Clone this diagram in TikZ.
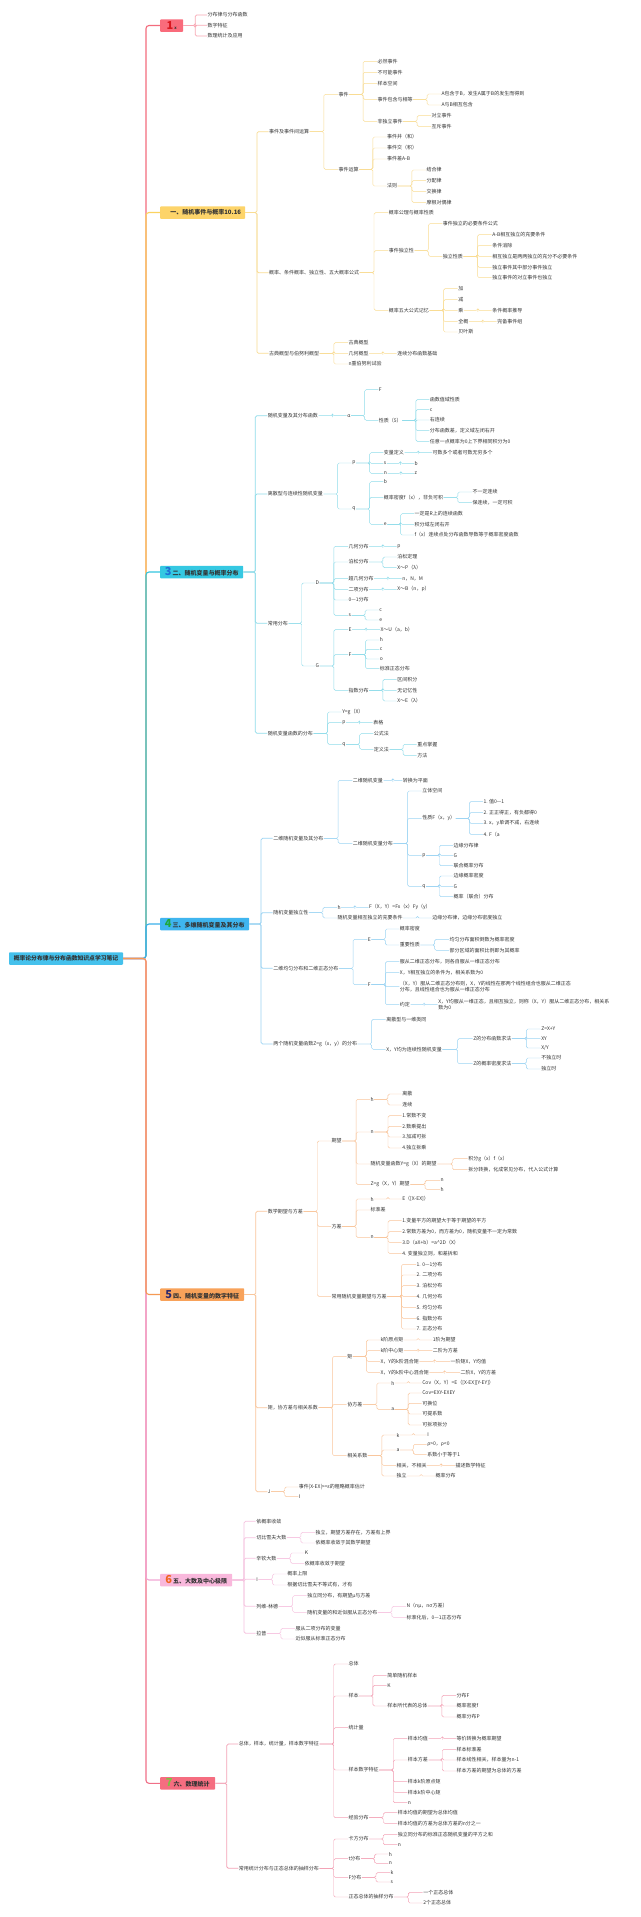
\documentclass[tikz,border=0pt]{standalone}
\usepackage{fontspec}
\setmainfont{Noto Sans CJK SC}
\usetikzlibrary{calc}
\definecolor{txt}{HTML}{333333}
\definecolor{rootf}{HTML}{45C1EC}
\definecolor{cb1}{HTML}{F96B7B}
\definecolor{cbA}{HTML}{FDD46A}
\definecolor{cbB}{HTML}{35C8E2}
\definecolor{cbC}{HTML}{3FB5EF}
\definecolor{cbD}{HTML}{F8A25A}
\definecolor{cbE}{HTML}{F9B8DC}
\definecolor{cbF}{HTML}{F56D80}
\definecolor{s1}{HTML}{F36C7D}
\definecolor{sA}{HTML}{FBD360}
\definecolor{sB}{HTML}{34C5DF}
\definecolor{sC}{HTML}{3BB0EA}
\definecolor{sD}{HTML}{F59A55}
\definecolor{sE}{HTML}{F2A6D4}
\definecolor{sF}{HTML}{F07088}
\definecolor{l1}{HTML}{F8A9B5}
\definecolor{lA}{HTML}{F9DC93}
\definecolor{lB}{HTML}{90DCEA}
\definecolor{lC}{HTML}{9CD4F3}
\definecolor{lD}{HTML}{F9C69C}
\definecolor{lE}{HTML}{F6C3E0}
\definecolor{lF}{HTML}{F3A2B6}
\definecolor{dg1}{HTML}{D8161E}
\definecolor{dg3}{HTML}{1F6FD6}
\definecolor{dg4}{HTML}{1FA83A}
\definecolor{dg5}{HTML}{2D2A6E}
\definecolor{dg6}{HTML}{F0641E}
\definecolor{dg7}{HTML}{7CC242}
\tikzset{
  t/.style={anchor=west,inner sep=0.4pt,font=\fontsize{5}{6.6}\selectfont,text=txt,align=left},
  elb/.style={to path={-| ($(\tikztostart)!.5!(\tikztotarget)$) |- (\tikztotarget)}},
  lc/.style={draw=gray},
  lw1/.style={line width=0.75pt},
  bx/.style={anchor=west,minimum height=12.5pt,inner xsep=2pt,inner ysep=0pt,font=\bfseries\fontsize{6}{7}\selectfont,text=txt,rounded corners=0.8pt},
  tr/.style={line width=1.1pt,rounded corners=3pt}
}
\newcommand\N[4]{\node[t] (#1) at (#2,#3) {#4};}
\newcommand\lk[3][]{\foreach \x in {#3}{\draw[lc,elb,line width=0.45pt,rounded corners=1.5pt,#1] (#2.east) to (\x.west);}}
\newcommand\dig[2]{{\fontsize{11}{11}\selectfont\color{#1}#2}\,}
\begin{document}
\begin{tikzpicture}[x=1pt,y=-1pt]
\useasboundingbox (0,0) rectangle (640,1917);
\fill[white] (0,0) rectangle (640,1917);
% root and main boxes
\node[bx,fill=rootf,minimum width=114pt,anchor=center,font=\bfseries\fontsize{5.8}{7}\selectfont] (root) at (66,958.5) {概率论分布律与分布函数知识点学习笔记};
\node[bx,fill=cb1,minimum width=23pt] (b1) at (160,25.5) {\dig{dg1}{1}{\fontsize{4}{4}\selectfont x}};
\node[bx,fill=cbA,minimum width=85pt] (bA) at (160,212.5) {\hspace{6pt}一、随机事件与概率10.16};
\node[bx,fill=cbB,minimum width=83pt] (bB) at (160,572) {\dig{dg3}{3}二、随机变量与概率分布};
\node[bx,fill=cbC,minimum width=89pt] (bC) at (160,924) {\dig{dg4}{4}三、多维随机变量及其分布};
\node[bx,fill=cbD,minimum width=84pt] (bD) at (160,1294.5) {\dig{dg5}{5}四、随机变量的数字特征};
\node[bx,fill=cbE,minimum width=72pt] (bE) at (160,1580) {\dig{dg6}{6}五、大数及中心极限};
\node[bx,fill=cbF,minimum width=55pt] (bF) at (160,1783.3) {\dig{dg7}{7}六、数理统计};
% root connectors (outer first)
\draw[tr,s1] (root.east) -| ([xshift=-14pt]b1.west) -- (b1.west);
\draw[tr,sA] (root.east) -| ([xshift=-14pt]bA.west) -- (bA.west);
\draw[tr,sB] (root.east) -| ([xshift=-14pt]bB.west) -- (bB.west);
\draw[tr,sC] (root.east) -| ([xshift=-14pt]bC.west) -- (bC.west);
\draw[tr,sF] (root.east) -| ([xshift=-14pt]bF.west) -- (bF.west);
\draw[tr,sE] (root.east) -| ([xshift=-14pt]bE.west) -- (bE.west);
\draw[tr,sD] (root.east) -| ([xshift=-14pt]bD.west) -- (bD.west);

% ---------- branch 1
\begin{scope}[lc/.style={draw=l1}]
\N{b1a}{207}{15}{分布律与分布函数}
\N{b1b}{207}{25.3}{数字特征}
\N{b1c}{207}{36}{数理统计及应用}
\lk[lw1]{b1}{b1a,b1b,b1c}
\end{scope}

% ---------- branch 一
\begin{scope}[lc/.style={draw=lA}]
\N{a1}{268.5}{131.7}{事件及事件间运算}
\N{a11}{338}{94.3}{事件}
\N{a111}{377}{61.3}{必然事件}
\N{a112}{377}{72.3}{不可能事件}
\N{a113}{377}{83.3}{样本空间}
\N{a114}{377}{99.3}{事件包含与相等}
\N{a115}{377}{121.3}{非独立事件}
\N{a1141}{441}{94}{A包含于B，发生A属于B的发生而得到}
\N{a1142}{441}{105}{A与B相互包含}
\N{a1151}{431}{115.7}{对立事件}
\N{a1152}{431}{126.3}{互斥事件}
\N{a12}{338}{169.3}{事件运算}
\N{a121}{386.5}{137}{事件并（和）}
\N{a122}{386.5}{148}{事件交（积）}
\N{a123}{386.5}{159}{事件差A-B}
\N{a124}{386.5}{186}{法则}
\N{a1241}{426}{170}{结合律}
\N{a1242}{426}{180.7}{分配律}
\N{a1243}{426}{191.3}{交换律}
\N{a1244}{426}{202.3}{摩根对偶律}
\N{a2}{268.5}{272.7}{概率、条件概率、独立性、五大概率公式}
\N{a21}{388.3}{212.7}{概率公理与概率性质}
\N{a22}{388.3}{250.7}{事件独立性}
\N{a23}{388.3}{310.3}{概率五大公式记忆}
\N{a221}{442.3}{223.7}{事件独立的必要条件公式}
\N{a222}{442.3}{256.3}{独立性质}
\N{a2221}{491.7}{234.7}{A-B相互独立的充要条件}
\N{a2222}{491.7}{245.3}{条件消除}
\N{a2223}{491.7}{256.3}{相互独立是两两独立的充分不必要条件}
\N{a2224}{491.7}{267.3}{独立事件其中部分事件独立}
\N{a2225}{491.7}{277.7}{独立事件的对立事件也独立}
\N{a231}{457.7}{288.7}{加}
\N{a232}{457.7}{299.7}{减}
\N{a233}{457.7}{310.3}{乘}
\N{a234}{457.7}{321.7}{全概}
\N{a235}{457.7}{332}{贝叶斯}
\N{a2331}{491.7}{310.3}{条件概率推导}
\N{a2341}{496.7}{321.7}{完备事件组}
\N{a3}{268.5}{353.3}{古典概型与伯努利概型}
\N{a31}{348}{342.7}{古典概型}
\N{a32}{348}{353.3}{几何概型}
\N{a33}{348}{364}{n重伯努利试验}
\N{a321}{396.7}{353.3}{连续分布函数基础}
\lk[lw1]{bA}{a1,a2,a3}
\lk{a1}{a11,a12}
\lk{a11}{a111,a112,a113,a114,a115}
\lk{a114}{a1141,a1142}
\lk{a115}{a1151,a1152}
\lk{a12}{a121,a122,a123,a124}
\lk{a124}{a1241,a1242,a1243,a1244}
\lk{a2}{a21,a22,a23}
\lk{a22}{a221,a222}
\lk{a222}{a2221,a2222,a2223,a2224,a2225}
\lk{a23}{a231,a232,a233,a234,a235}
\lk{a233}{a2331}
\lk{a234}{a2341}
\lk{a3}{a31,a32,a33}
\lk{a32}{a321}
\end{scope}

% ---------- branch 二
\begin{scope}[lc/.style={draw=lB}]
\N{c1}{267.3}{415.7}{随机变量及其分布函数}
\N{c11}{346.7}{415.7}{α}
\N{c111}{378.3}{389.7}{F}
\N{c112}{378.3}{420.3}{性质（5）}
\N{c1121}{429.3}{399.7}{函数值域性质}
\N{c1122}{429.3}{409.7}{c}
\N{c1123}{429.3}{420}{右连续}
\N{c1124}{429.3}{430.7}{分布函数差，定义域左闭右开}
\N{c1125}{429.3}{441.3}{任意一点概率为0上下界相同积分为0}
\N{c2}{267.3}{494}{离散型与连续性随机变量}
\N{c21}{351.7}{463}{p}
\N{c22}{351.7}{509}{q}
\N{c211}{383.3}{452.7}{变量定义}
\N{c212}{383.3}{463.3}{s}
\N{c213}{383.3}{473.3}{n}
\N{c2111}{432}{452.7}{可数多个或者可数无穷多个}
\N{c2121}{414}{463.3}{b}
\N{c2131}{414}{473.3}{z}
\N{c221}{383.3}{481.7}{b}
\N{c222}{383.3}{497.3}{概率密度f（x），非负可积}
\N{c223}{383.3}{524.3}{e}
\N{c2221}{472}{492}{不一定连续}
\N{c2222}{472}{502.7}{保连续，一定可积}
\N{c2231}{414}{513.7}{一定是R上的连续函数}
\N{c2232}{414}{524.3}{积分域左闭右开}
\N{c2233}{414}{535}{f（x）连续点处分布函数导数等于概率密度函数}
\N{c3}{267.3}{623.3}{常用分布}
\N{c31}{315}{583}{D}
\N{c32}{315}{666}{G}
\N{c311}{348}{546.3}{几何分布}
\N{c312}{348}{562}{泊松分布}
\N{c313}{348}{578.7}{超几何分布}
\N{c314}{348}{589.3}{二项分布}
\N{c315}{348}{600}{0—1分布}
\N{c316}{348}{615.3}{s}
\N{c3111}{396.7}{546.3}{p}
\N{c3121}{396.7}{557}{泊松定理}
\N{c3122}{396.7}{567.7}{X～P（λ）}
\N{c3131}{401.7}{578.7}{n，N，M}
\N{c3141}{396.7}{589.3}{X～B（n，p）}
\N{c3161}{378.7}{610}{c}
\N{c3162}{378.7}{620}{e}
\N{c321}{348}{629.7}{E}
\N{c322}{348}{654.7}{F}
\N{c323}{348}{690.3}{指数分布}
\N{c3211}{380}{629.7}{X～U（a，b）}
\N{c3221}{379.3}{640}{h}
\N{c3222}{379.3}{649.3}{c}
\N{c3223}{379.3}{659}{o}
\N{c3224}{379.3}{668.7}{标准正态分布}
\N{c3231}{396.7}{679.3}{区间积分}
\N{c3232}{396.7}{690.3}{无记忆性}
\N{c3233}{396.7}{701}{X～E（λ）}
\N{c4}{267.3}{733.3}{随机变量函数的分布}
\N{c41}{341.7}{712}{Y=g（X）}
\N{c42}{341.7}{722.7}{p}
\N{c43}{341.7}{744.3}{q}
\N{c421}{372.7}{722.7}{表格}
\N{c431}{373.3}{733.7}{公式法}
\N{c432}{373.3}{749.3}{定义法}
\N{c4321}{416.7}{744.3}{重点掌握}
\N{c4322}{416.7}{755.3}{方法}
\lk[lw1]{bB}{c1,c2,c3,c4}
\lk{c1}{c11}
\lk{c11}{c111,c112}
\lk{c112}{c1121,c1122,c1123,c1124,c1125}
\lk{c2}{c21,c22}
\lk{c21}{c211,c212,c213}
\lk{c211}{c2111}
\lk{c212}{c2121}
\lk{c213}{c2131}
\lk{c22}{c221,c222,c223}
\lk{c222}{c2221,c2222}
\lk{c223}{c2231,c2232,c2233}
\lk{c3}{c31,c32}
\lk{c31}{c311,c312,c313,c314,c315,c316}
\lk{c311}{c3111}
\lk{c312}{c3121,c3122}
\lk{c313}{c3131}
\lk{c314}{c3141}
\lk{c316}{c3161,c3162}
\lk{c32}{c321,c322,c323}
\lk{c321}{c3211}
\lk{c322}{c3221,c3222,c3223,c3224}
\lk{c323}{c3231,c3232,c3233}
\lk{c4}{c41,c42,c43}
\lk{c42}{c421}
\lk{c43}{c431,c432}
\lk{c432}{c4321,c4322}
\end{scope}

% ---------- branch 三
\begin{scope}[lc/.style={draw=lC}]
\N{d1}{272.7}{838.3}{二维随机变量及其分布}
\N{d11}{352.3}{780.3}{二维随机变量}
\N{d12}{352.3}{843.3}{二维随机变量分布}
\N{d111}{402.3}{780.3}{转换为平面}
\N{d121}{421.7}{791}{立体空间}
\N{d122}{421.7}{818.3}{性质F（x，y）}
\N{d123}{421.7}{855.3}{p}
\N{d124}{421.7}{886.3}{q}
\N{d1221}{482.9}{801.7}{1. 值0—1}
\N{d1222}{482.9}{812.7}{2. 正正得正，有负都得0}
\N{d1223}{482.9}{823.3}{3. x，y单调不减，右连续}
\N{d1224}{482.9}{834.3}{4. F（a}
\N{d1231}{453}{845.3}{边缘分布律}
\N{d1232}{453}{855.3}{G}
\N{d1233}{453}{865.7}{联合概率分布}
\N{d1241}{453}{876}{边缘概率密度}
\N{d1242}{453}{886.3}{G}
\N{d1243}{453}{896.7}{概率（联合）分布}
\N{d2}{272.7}{912.7}{随机变量独立性}
\N{d21}{337}{907.3}{h}
\N{d22}{337}{918}{随机变量相互独立的充要条件}
\N{d211}{368.6}{907.3}{F（X，Y）=Fx（x）Fy（y）}
\N{d221}{431.8}{918}{边缘分布律，边缘分布密度独立}
\N{d3}{272.7}{968.3}{二维均匀分布和二维正态分布}
\N{d31}{367.3}{939.3}{E}
\N{d32}{367.3}{984.7}{F}
\N{d311}{399.2}{929}{概率密度}
\N{d312}{399.2}{945}{重要性质}
\N{d3121}{449}{939.3}{均匀分布面积倒数为概率密度}
\N{d3122}{449}{950.3}{部分区域的面积比例即为其概率}
\N{d321}{399.3}{961.7}{服从二维正态分布，则各自服从一维正态分布}
\N{d322}{399.3}{972.3}{X，Y相互独立的条件为，相关系数为0}
\N{d323}{399.3}{986.7}{（X，Y）服从二维正态分布则，X，Y的线性在那两个线性组合也服从二维正态\\分布，且线性组合也为服从一维正态分布}
\N{d324}{399.3}{1004.7}{约定}
\N{d3241}{437.7}{1004.7}{X，Y均服从一维正态，且相互独立，则称（X，Y）服从二维正态分布，相关系\\数为0}
\N{d4}{272.7}{1044}{两个随机变量函数Z=g（x，y）的分布}
\N{d41}{385.7}{1019.3}{离散型与一维类同}
\N{d42}{385.7}{1049.3}{X，Y均为连续性随机变量}
\N{d421}{472.7}{1038.7}{Z的分布函数求法}
\N{d422}{472.7}{1063.7}{Z的概率密度求法}
\N{d4211}{540.7}{1029}{Z=X+Y}
\N{d4212}{540.7}{1038.7}{XY}
\N{d4213}{540.7}{1048}{X/Y}
\N{d4221}{540.7}{1058}{不独立时}
\N{d4222}{540.7}{1069}{独立时}
\lk[lw1]{bC}{d1,d2,d3,d4}
\lk{d1}{d11,d12}
\lk{d11}{d111}
\lk{d12}{d121,d122,d123,d124}
\lk{d122}{d1221,d1222,d1223,d1224}
\lk{d123}{d1231,d1232,d1233}
\lk{d124}{d1241,d1242,d1243}
\lk{d2}{d21,d22}
\lk{d21}{d211}
\lk{d22}{d221}
\lk{d3}{d31,d32}
\lk{d31}{d311,d312}
\lk{d312}{d3121,d3122}
\lk{d32}{d321,d322,d323,d324}
\lk{d324}{d3241}
\lk{d4}{d41,d42}
\lk{d42}{d421,d422}
\lk{d421}{d4211,d4212,d4213}
\lk{d422}{d4221,d4222}
\end{scope}

% ---------- branch 四
\begin{scope}[lc/.style={draw=lD}]
\N{e1}{267.3}{1211.3}{数学期望与方差}
\N{e11}{331}{1141}{期望}
\N{e12}{331}{1226.3}{方差}
\N{e13}{331}{1296.3}{常用随机变量期望与方差}
\N{e111}{370}{1099.3}{h}
\N{e112}{370}{1132}{n}
\N{e113}{370}{1164}{随机变量函数Y=g（X）的期望}
\N{e114}{370}{1184.3}{Z=g（X，Y）期望}
\N{e1111}{401.7}{1094}{离散}
\N{e1112}{401.7}{1105}{连续}
\N{e1121}{401.7}{1115.7}{1.常数不变}
\N{e1122}{401.7}{1126.3}{2.数乘提出}
\N{e1123}{401.7}{1137}{3.加减可拆}
\N{e1124}{401.7}{1148}{4.独立拆乘}
\N{e1131}{467.7}{1158.7}{积分g（x）f（x）}
\N{e1132}{467.7}{1169.7}{拆分转换，化成常见分布，代入公式计算}
\N{e1141}{440}{1180.3}{n}
\N{e1142}{440}{1189.3}{h}
\N{e121}{370}{1199}{h}
\N{e122}{370}{1210}{标准差}
\N{e123}{370}{1237.3}{n}
\N{e1211}{401.7}{1199}{E（[X-EX]）}
\N{e1231}{401.7}{1220.7}{1.变量平方的期望大于等于期望的平方}
\N{e1232}{401.7}{1231.7}{2.常数方差为0，而方差为0，随机变量不一定为常数}
\N{e1233}{401.7}{1242.3}{3.D（aX+b）=a\textasciicircum2D（X）}
\N{e1234}{401.7}{1253.3}{4. 变量独立则，和差拆和}
\N{e131}{416}{1264.3}{1. 0—1分布}
\N{e132}{416}{1275}{2. 二项分布}
\N{e133}{416}{1285.7}{3. 泊松分布}
\N{e134}{416}{1296.3}{4. 几何分布}
\N{e135}{416}{1307.3}{5. 均匀分布}
\N{e136}{416}{1318.3}{6. 指数分布}
\N{e137}{416}{1329}{7. 正态分布}
\N{e2}{267.3}{1407.7}{矩，协方差与相关系数}
\N{e21}{346.7}{1356.3}{矩}
\N{e22}{346.7}{1404.3}{协方差}
\N{e23}{346.7}{1455.7}{相关系数}
\N{e211}{380}{1340}{k阶原点矩}
\N{e212}{380}{1350.7}{k阶中心矩}
\N{e213}{380}{1361.3}{X，Y的k阶混合矩}
\N{e214}{380}{1372.3}{X，Y的k阶中心混合矩}
\N{e2111}{432.3}{1340}{1阶为期望}
\N{e2121}{432.3}{1350.7}{二阶为方差}
\N{e2131}{450}{1361.3}{一阶矩X，Y均值}
\N{e2141}{460}{1372.3}{二阶X，Y的方差}
\N{e221}{390.7}{1383}{h}
\N{e222}{390.7}{1409.3}{a}
\N{e2211}{421.7}{1383}{Cov（X，Y）=E（[X-EX][Y-EY]）}
\N{e2221}{421.7}{1393}{Cov=EXY-EXEY}
\N{e2222}{421.7}{1403.3}{可换位}
\N{e2223}{421.7}{1414}{可提系数}
\N{e2224}{421.7}{1425}{可拆项拆分}
\N{e231}{396}{1435}{k}
\N{e232}{396}{1450}{a}
\N{e233}{396}{1465.3}{相关，不相关}
\N{e234}{396}{1476}{独立}
\N{e2311}{426.7}{1435}{I}
\N{e2321}{426.7}{1444.3}{ρ>0，ρ<0}
\N{e2322}{426.7}{1454.3}{系数小于等于1}
\N{e2331}{455}{1465.3}{描述数学特征}
\N{e2341}{435}{1476}{概率分布}
\N{e3}{267.3}{1491.7}{J}
\N{e31}{298.3}{1487}{事件|X-EX|>=ε的粗略概率估计}
\N{e32}{298.3}{1496.7}{I}
\lk[lw1]{bD}{e1,e2,e3}
\lk{e1}{e11,e12,e13}
\lk{e11}{e111,e112,e113,e114}
\lk{e111}{e1111,e1112}
\lk{e112}{e1121,e1122,e1123,e1124}
\lk{e113}{e1131,e1132}
\lk{e114}{e1141,e1142}
\lk{e12}{e121,e122,e123}
\lk{e121}{e1211}
\lk{e123}{e1231,e1232,e1233,e1234}
\lk{e13}{e131,e132,e133,e134,e135,e136,e137}
\lk{e2}{e21,e22,e23}
\lk{e21}{e211,e212,e213,e214}
\lk{e211}{e2111}
\lk{e212}{e2121}
\lk{e213}{e2131}
\lk{e214}{e2141}
\lk{e22}{e221,e222}
\lk{e221}{e2211}
\lk{e222}{e2221,e2222,e2223,e2224}
\lk{e23}{e231,e232,e233,e234}
\lk{e231}{e2311}
\lk{e232}{e2321,e2322}
\lk{e233}{e2331}
\lk{e234}{e2341}
\lk{e3}{e31,e32}
\end{scope}

% ---------- branch 五
\begin{scope}[lc/.style={draw=lE}]
\N{f1}{255.7}{1521.3}{依概率收敛}
\N{f2}{255.7}{1537.7}{切比雪夫大数}
\N{f3}{255.7}{1558.3}{辛钦大数}
\N{f4}{255.7}{1579.3}{I}
\N{f5}{255.7}{1606.3}{列维-林德}
\N{f6}{255.7}{1633.3}{拉普}
\N{f21}{315}{1532.3}{独立，期望方差存在，方差有上界}
\N{f22}{315}{1543}{依概率收敛于其数学期望}
\N{f31}{304.3}{1553}{K}
\N{f32}{304.3}{1563.3}{依概率收敛于期望}
\N{f41}{286.7}{1574}{概率上限}
\N{f42}{286.7}{1585}{根据切比雪夫不等式有，才有}
\N{f51}{306.7}{1595.7}{独立同分布，有期望μ与方差}
\N{f52}{306.7}{1612.3}{随机变量的和近似服从正态分布}
\N{f521}{406}{1606.3}{N（nμ，nσ方差）}
\N{f522}{406}{1617.3}{标准化后，0—1正态分布}
\N{f61}{295}{1628.3}{服从二项分布的变量}
\N{f62}{295}{1639}{近似服从标准正态分布}
\lk[lw1]{bE}{f1,f2,f3,f4,f5,f6}
\lk{f2}{f21,f22}
\lk{f3}{f31,f32}
\lk{f4}{f41,f42}
\lk{f5}{f51,f52}
\lk{f52}{f521,f522}
\lk{f6}{f61,f62}
\end{scope}

% ---------- branch 六
\begin{scope}[lc/.style={draw=lF}]
\N{g1}{238.3}{1744}{总体，样本，统计量，样本数字特征}
\N{g11}{348}{1664}{总体}
\N{g12}{348}{1696}{样本}
\N{g13}{348}{1727.7}{统计量}
\N{g14}{348}{1770}{样本数字特征}
\N{g15}{348}{1817.7}{经验分布}
\N{g121}{386.7}{1675.3}{简单随机样本}
\N{g122}{386.7}{1685.3}{K}
\N{g123}{386.7}{1706}{样本所代表的总体}
\N{g1231}{456}{1695.3}{分布F}
\N{g1232}{456}{1706}{概率密度f}
\N{g1233}{456}{1717}{概率分布P}
\N{g141}{407.3}{1738.3}{样本均值}
\N{g142}{407.3}{1760}{样本方差}
\N{g143}{407.3}{1781.7}{样本k阶原点矩}
\N{g144}{407.3}{1792.3}{样本k阶中心矩}
\N{g145}{407.3}{1802.7}{n}
\N{g1411}{456}{1738.3}{等价转换为概率期望}
\N{g1421}{456}{1749.3}{样本标准差}
\N{g1422}{456}{1760}{样本线性相关，样本量为n-1}
\N{g1423}{456}{1771}{样本方差的期望为总体的方差}
\N{g151}{397.3}{1812.7}{样本均值的期望为总体均值}
\N{g152}{397.3}{1823.3}{样本均值的方差为总体方差的n分之一}
\N{g2}{238.3}{1868.3}{常用统计分布与正态总体的抽样分布}
\N{g21}{348}{1839}{卡方分布}
\N{g22}{348}{1858.7}{t分布}
\N{g23}{348}{1877.3}{F分布}
\N{g24}{348}{1897}{正态总体的抽样分布}
\N{g211}{397.3}{1834.3}{独立同分布的标准正态随机变量的平方之和}
\N{g212}{397.3}{1844.7}{n}
\N{g221}{388.3}{1854}{h}
\N{g222}{388.3}{1863.3}{n}
\N{g231}{390}{1872.7}{k}
\N{g232}{390}{1882}{s}
\N{g241}{422.7}{1892.3}{一个正态总体}
\N{g242}{422.7}{1903}{2个正态总体}
\lk[lw1]{bF}{g1,g2}
\lk{g1}{g11,g12,g13,g14,g15}
\lk{g12}{g121,g122,g123}
\lk{g123}{g1231,g1232,g1233}
\lk{g14}{g141,g142,g143,g144,g145}
\lk{g141}{g1411}
\lk{g142}{g1421,g1422,g1423}
\lk{g15}{g151,g152}
\lk{g2}{g21,g22,g23,g24}
\lk{g21}{g211,g212}
\lk{g22}{g221,g222}
\lk{g23}{g231,g232}
\lk{g24}{g241,g242}
\end{scope}
\end{tikzpicture}
\end{document}
